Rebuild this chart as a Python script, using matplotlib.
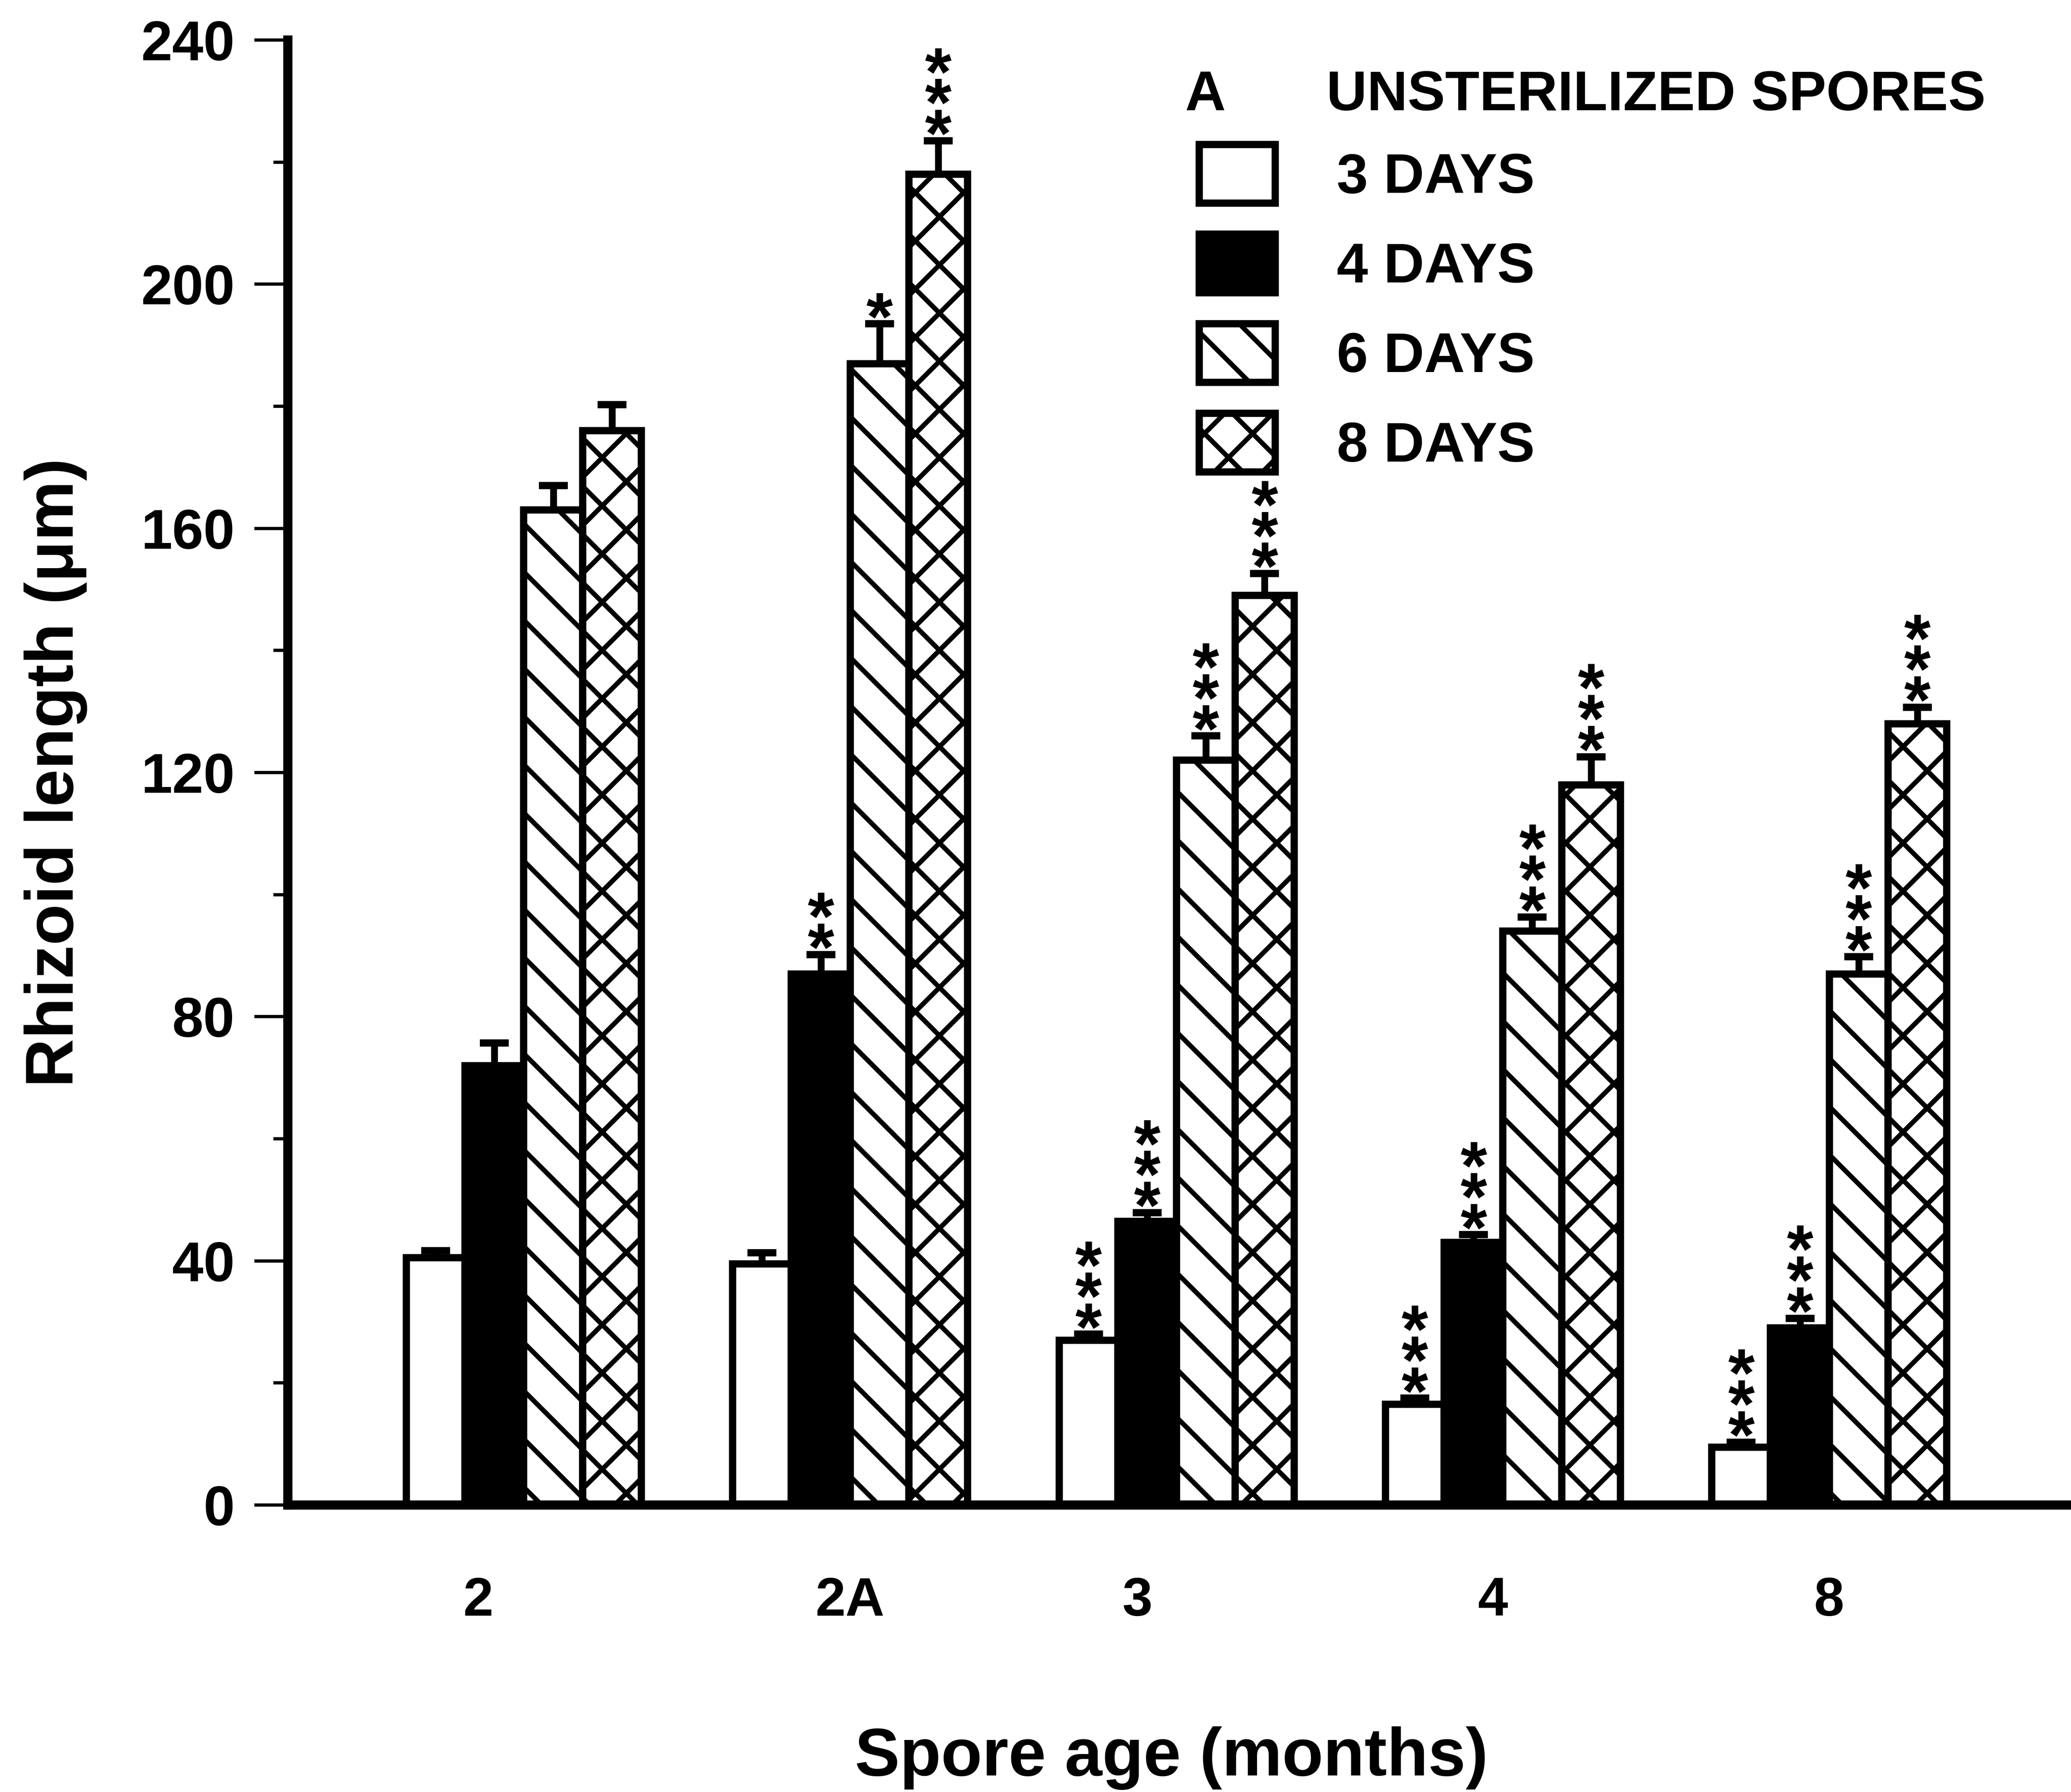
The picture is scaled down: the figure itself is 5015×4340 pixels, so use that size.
import numpy as np
import matplotlib
matplotlib.use('Agg')
import matplotlib.pyplot as plt
from matplotlib.ticker import MultipleLocator

# spore age groups and culture times
ages = ['2', '2A', '3', '4', '8']
series = ['3 DAYS', '4 DAYS', '6 DAYS', '8 DAYS']

# rhizoid length (um)
days3 = [40.5, 39.5, 27.0, 16.5, 9.5]
days4 = [72.0, 87.0, 46.5, 43.0, 29.0]
days6 = [163.0, 187.0, 122.0, 94.0, 87.0]
days8 = [176.0, 218.0, 149.0, 118.0, 128.0]

# upper error bars
err3 = [1.2, 1.8, 1.0, 1.0, 0.8]
err4 = [3.7, 3.2, 1.4, 1.3, 1.6]
err6 = [4.0, 6.5, 4.0, 2.3, 2.8]
err8 = [4.3, 5.5, 3.6, 4.6, 2.7]

# significance marks above each bar
sig3 = ['', '', '***', '***', '***']
sig4 = ['', '**', '***', '***', '***']
sig6 = ['', '*', '***', '***', '***']
sig8 = ['', '***', '***', '***', '***']

yticks = [0, 40, 80, 120, 160, 200, 240]

plt.rcParams['font.family'] = ['Liberation Sans', 'DejaVu Sans']
plt.rcParams['font.weight'] = 'bold'
plt.rcParams['hatch.linewidth'] = 1.2
plt.rcParams['hatch.color'] = 'black'

DPI = 700
W, H = 5015, 4340
fig = plt.figure(figsize=(W / DPI, H / DPI), dpi=DPI, facecolor='white')
ax = fig.add_axes([697 / W, 695 / H, (5005 - 697) / W, (3645 - 97) / H])

x = np.arange(len(ages))
w = 0.18
values = [days3, days4, days6, days8]
errors = [err3, err4, err6, err8]
sigs = [sig3, sig4, sig6, sig8]
faces = ['white', 'black', 'white', 'white']
hatches = [None, None, '\\\\', 'xx']

bars = []
for k in range(4):
    pos = x + (k - 1.5) * w
    b = ax.bar(pos, values[k], width=w, color=faces[k], edgecolor='black',
               hatch=hatches[k], linewidth=1.8, zorder=2, label=series[k])
    bars.append(b)
    eb = ax.errorbar(pos, values[k], yerr=[np.zeros(len(ages)), errors[k]],
                     fmt='none', ecolor='black', elinewidth=1.7, capsize=3.6,
                     capthick=1.8, zorder=3)
    eb[1][0].set_visible(False)  # hide lower caps
    for i in range(len(ages)):
        top = values[k][i] + errors[k][i]
        # one asterisk per line, stacked upwards from the cap
        for j in range(len(sigs[k][i])):
            ax.annotate('*', xy=(pos[i], top), xytext=(0, -4.0 + 7.7 * j),
                        textcoords='offset points', ha='center', va='baseline',
                        fontsize=17, annotation_clip=False, zorder=4)

ax.set_xlim(-0.723, 4.728)
ax.set_ylim(0, 240)
ax.spines[['top', 'right']].set_visible(False)
ax.spines['left'].set_linewidth(2.3)
ax.spines['bottom'].set_linewidth(2.3)

ax.set_yticks(yticks)
ax.yaxis.set_minor_locator(MultipleLocator(20))
ax.tick_params(axis='y', which='major', length=8.3, width=0.8, pad=4.9, labelsize=14)
ax.tick_params(axis='y', which='minor', length=3.6, width=0.8)

label_shift = [-0.14, 0.0, -0.12, -0.03, 0.0]
ax.set_xticks(x + np.array(label_shift), ages)
ax.tick_params(axis='x', length=0, pad=17.7, labelsize=13.5)

fig.legend(bars, series, loc='upper left', bbox_to_anchor=(2904 / W, 1 - 350 / H),
           frameon=False, fontsize=14, handlelength=1.35, handleheight=1.23,
           handletextpad=1.1, labelspacing=0.53, borderpad=0, borderaxespad=0)
fig.text(2870 / W, 1 - 232 / H, 'A', ha='left', va='center', fontsize=14)
fig.text(3212 / W, 1 - 232 / H, 'UNSTERILIZED SPORES', ha='left', va='center', fontsize=14)

fig.text(135 / W, 1 - 1871 / H, 'Rhizoid length (μm)', rotation=90,
         ha='center', va='center', fontsize=16.8)
fig.text(2837 / W, 1 - 4258 / H, 'Spore age (months)', ha='center', va='center',
         fontsize=16.8)

fig.savefig('out.png', dpi=DPI, facecolor='white')
